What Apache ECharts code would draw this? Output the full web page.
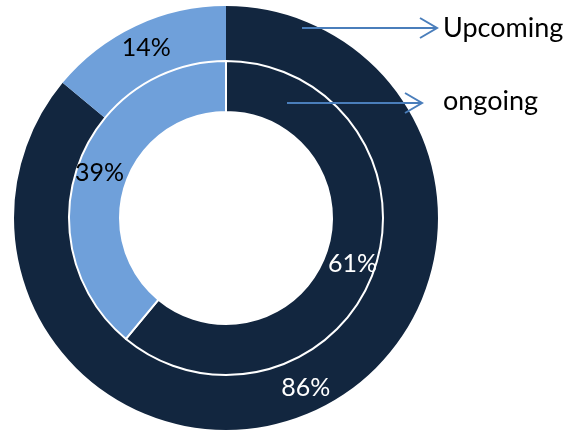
<!DOCTYPE html>
<html>
<head>
<meta charset="utf-8" />
<title>Upcoming / ongoing</title>
<script src="https://cdn.jsdelivr.net/npm/echarts@6/dist/echarts.min.js"></script>
<style>
  html, body { margin: 0; padding: 0; background: #fff; }
  #main { width: 566px; height: 430px; }
</style>
</head>
<body>
<div id="main"></div>
<script>
// data
var categories = ['Part A', 'Part B'];
var upcomingValues = [86, 14];   // outer ring
var ongoingValues = [61, 39];    // inner ring
var colors = ['#12263f', '#6fa0da'];

var fontFam = 'Lato, "Open Sans", sans-serif';

function makeData(vals) {
  var out = [];
  for (var i = 0; i < vals.length; i++) {
    out.push({
      name: categories[i],
      value: vals[i],
      itemStyle: { color: colors[i] },
      label: { color: i === 0 ? '#ffffff' : '#000000' }
    });
  }
  return out;
}

var chart = echarts.init(document.getElementById('main'));
var option = {
  animation: false,
  series: [
    {
      name: 'Upcoming',
      type: 'pie',
      center: [226, 218],
      radius: [157, 212],
      startAngle: 90,
      clockwise: true,
      silent: true,
      label: {
        position: 'inside',
        formatter: '{c}%',
        fontSize: 25,
        fontFamily: fontFam
      },
      labelLine: { show: false },
      data: makeData(upcomingValues)
    },
    {
      name: 'ongoing',
      type: 'pie',
      center: [226, 218],
      radius: [106, 157],
      startAngle: 90,
      clockwise: true,
      silent: true,
      itemStyle: { borderColor: '#ffffff', borderWidth: 2 },
      label: {
        position: 'inside',
        formatter: '{c}%',
        fontSize: 25,
        fontFamily: fontFam
      },
      labelLine: { show: false },
      data: makeData(ongoingValues)
    }
  ],
  // arrows and names drawn above the rings
  graphic: [
    { type: 'line', z: 100, shape: { x1: 302, y1: 28, x2: 436, y2: 28 }, style: { stroke: '#4a7ebb', lineWidth: 2 } },
    { type: 'polyline', z: 100, shape: { points: [[420, 18], [437, 28], [420, 38]] }, style: { stroke: '#4a7ebb', lineWidth: 2, fill: null } },
    { type: 'line', z: 100, shape: { x1: 287, y1: 103, x2: 421, y2: 103 }, style: { stroke: '#4a7ebb', lineWidth: 2 } },
    { type: 'polyline', z: 100, shape: { points: [[405, 93], [422, 103], [405, 113]] }, style: { stroke: '#4a7ebb', lineWidth: 2, fill: null } },
    { type: 'text', z: 100, left: 443, top: 15, style: { text: 'Upcoming', fontSize: 27, fontFamily: fontFam, fill: '#000' } },
    { type: 'text', z: 100, left: 443, top: 88, style: { text: 'ongoing', fontSize: 27, fontFamily: fontFam, fill: '#000' } }
  ]
};
chart.setOption(option);
</script>
</body>
</html>
